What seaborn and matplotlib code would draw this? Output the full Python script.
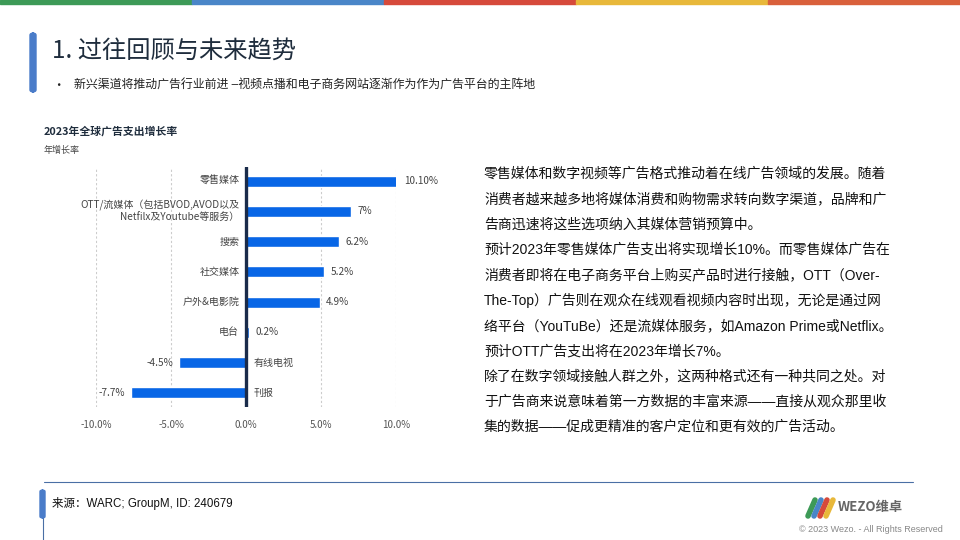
import matplotlib
matplotlib.use("Agg")
import matplotlib.pyplot as plt
from matplotlib.patches import FancyBboxPatch, Rectangle
import seaborn as sns
import pandas as pd

# ---- data ----
categories = ["零售媒体", "OTT/流媒体（包括BVOD,AVOD以及\nNetfilx及Youtube等服务）", "搜索", "社交媒体",
              "户外&电影院", "电台", "有线电视", "刊报"]
values = [10.1, 7.0, 6.2, 5.2, 4.9, 0.2, -4.5, -7.7]
value_labels = ["10.10%", "7%", "6.2%", "5.2%", "4.9%", "0.2%", "-4.5%", "-7.7%"]
xticks = [-10, -5, 0, 5, 10]
xtick_labels = ["-10.0%", "-5.0%", "0.0%", "5.0%", "10.0%"]

body_lines = [
    "零售媒体和数字视频等广告格式推动着在线广告领域的发展。随着",
    "消费者越来越多地将媒体消费和购物需求转向数字渠道，品牌和广",
    "告商迅速将这些选项纳入其媒体营销预算中。",
    "预计2023年零售媒体广告支出将实现增长10%。而零售媒体广告在",
    "消费者即将在电子商务平台上购买产品时进行接触，OTT（Over-",
    "The-Top）广告则在观众在线观看视频内容时出现，无论是通过网",
    "络平台（YouTuBe）还是流媒体服务，如Amazon Prime或Netflix。",
    "预计OTT广告支出将在2023年增长7%。",
    "除了在数字领域接触人群之外，这两种格式还有一种共同之处。对",
    "于广告商来说意味着第一方数据的丰富来源——直接从观众那里收",
    "集的数据——促成更精准的客户定位和更有效的广告活动。",
]

sns.set_theme(style="white")
plt.rcParams["font.family"] = ["Noto Sans CJK SC", "DejaVu Sans"]
ARIAL_CJK = ["Liberation Sans", "Noto Sans CJK SC", "DejaVu Sans"]

W, H = 960, 540
fig = plt.figure(figsize=(9.6, 5.4), dpi=100)
fig.patch.set_facecolor("white")

def fx(px):
    return px / W

def fy(py):
    return 1 - py / H

# top colour stripe
stripe_cols = ["#3d9a57", "#4a86c8", "#d64a3b", "#e8b83a", "#d9603b"]
for i, c in enumerate(stripe_cols):
    fig.patches.append(Rectangle((i / 5, fy(3.5)), 1 / 5, 3.5 / H, transform=fig.transFigure,
                                 color=c, zorder=5))

# left title accent bar
fig.patches.append(FancyBboxPatch((fx(30), fy(92)), fx(6), 59 / H, boxstyle="round,pad=0,rounding_size=0.004",
                                  transform=fig.transFigure, color="#4a7cc9", zorder=5))

fig.text(fx(52), fy(51), "1. 过往回顾与未来趋势", fontsize=17.5, color="#1f2d3d", va="center", ha="left")
fig.text(fx(52), fy(86), "•", fontsize=9, color="#222222", va="center", ha="left")
fig.text(fx(74), fy(86), "新兴渠道将推动广告行业前进 –视频点播和电子商务网站逐渐作为作为广告平台的主阵地",
         fontsize=8.6, color="#222222", va="center", ha="left", family=ARIAL_CJK)

# chart titles
fig.text(fx(44), fy(131), "2023年全球广告支出增长率", fontsize=7.8, fontweight="bold", color="#1f2d3d",
         va="center", ha="left")
fig.text(fx(44), fy(150), "年增长率", fontsize=6.5, color="#444444", va="center", ha="left")

# ---- bar chart ----
ax = fig.add_axes([fx(96), fy(407), fx(300), 240 / H])
df = pd.DataFrame({"category": categories, "value": values})
sns.barplot(data=df, x="value", y="category", orient="h", color="#0866e6", width=0.37,
            saturation=1, ax=ax, order=categories)
ax.set_xlim(-10, 10)
ax.set_ylim(7.47, -0.47)
for s in ax.spines.values():
    s.set_visible(False)
ax.set_xlabel("")
ax.set_ylabel("")
ax.set_yticks([])
ax.set_xticks(xticks)
ax.set_xticklabels(xtick_labels, fontsize=7, color="#555555")
ax.tick_params(axis="x", length=0, pad=9)
for t in xticks:
    ax.axvline(t, color="#cccccc", linestyle=(0, (2, 2)), linewidth=0.8, zorder=0)
ax.axvline(0, color="#1a2b4a", linewidth=2.4, zorder=3)

for i, (cat, v, lab) in enumerate(zip(categories, values, value_labels)):
    if v >= 0:
        ax.text(-0.45, i, cat, ha="right", va="center", fontsize=7.2, color="#444444", linespacing=1.3)
        ax.text(v + 0.45, i, lab, ha="left", va="center", fontsize=7.2, color="#444444")
    else:
        ax.text(0.5, i, cat, ha="left", va="center", fontsize=7.2, color="#444444")
        ax.text(v - 0.35, i, lab, ha="right", va="center", fontsize=7.2, color="#444444")

# ---- right body text ----
y0 = 174
for k, line in enumerate(body_lines):
    fig.text(fx(484), fy(y0 + k * 25.3), line, fontsize=10, color="#111111", va="center", ha="left",
             family=ARIAL_CJK)

# ---- footer ----
fig.lines.append(plt.Line2D([fx(44), fx(913)], [fy(482), fy(482)], transform=fig.transFigure,
                            color="#4a6fa5", linewidth=0.8))
fig.lines.append(plt.Line2D([fx(42.5), fx(42.5)], [fy(490), fy(540)], transform=fig.transFigure,
                            color="#4a6fa5", linewidth=0.8))
fig.patches.append(FancyBboxPatch((fx(40), fy(518)), fx(5), 28 / H, boxstyle="round,pad=0,rounding_size=0.003",
                                  transform=fig.transFigure, color="#4a7cc9", zorder=5))
fig.text(fx(52), fy(503), "来源：WARC; GroupM, ID: 240679", fontsize=8.3, color="#111111", va="center", ha="left",
         family=ARIAL_CJK)

# logo
logo_cols = ["#3d9a57", "#4a86c8", "#d64a3b", "#e8b83a"]
lx = [808, 814, 820, 826]
for c, x0 in zip(logo_cols, lx):
    fig.lines.append(plt.Line2D([fx(x0), fx(x0 + 7)], [fy(516), fy(500)], transform=fig.transFigure,
                                color=c, linewidth=4, solid_capstyle="round"))
fig.text(fx(838), fy(507), "WEZO维卓", fontsize=9.5, fontweight="bold", color="#666666", va="center", ha="left")
fig.text(fx(943), fy(529), "© 2023 Wezo. - All Rights Reserved", fontsize=6.5, color="#888888",
         va="center", ha="right", family=ARIAL_CJK)

fig.savefig("out.png", dpi=100, facecolor="white")
